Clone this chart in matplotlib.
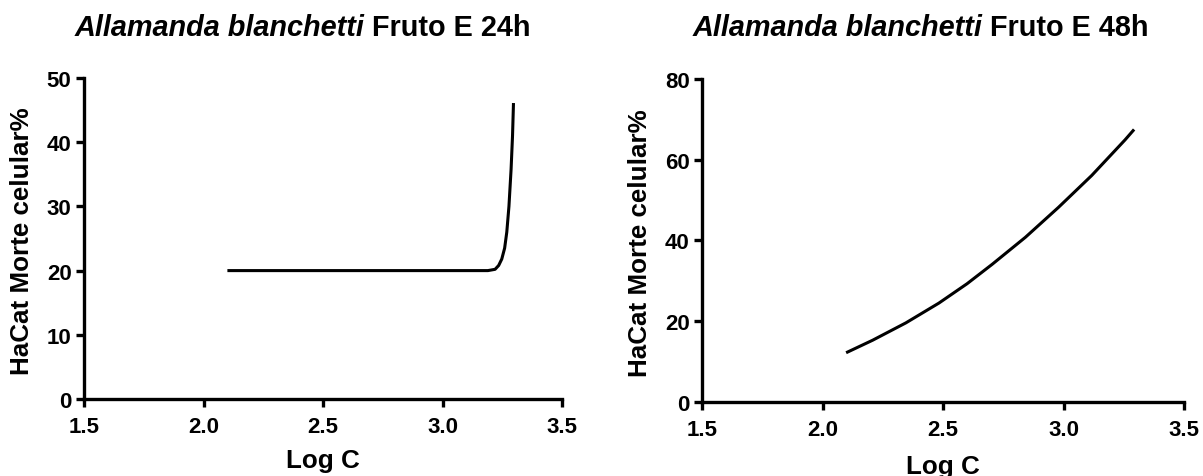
import matplotlib
matplotlib.use("Agg")
import matplotlib.pyplot as plt

plt.rcParams['font.family'] = ['Liberation Sans', 'DejaVu Sans']

# ---- data ----
x24 = [2.10, 2.50, 3.00, 3.19, 3.22, 3.235, 3.248, 3.26, 3.269, 3.278, 3.287, 3.293, 3.297]
y24 = [20.0, 20.0, 20.0, 20.0, 20.2, 20.8, 21.8, 23.5, 26.0, 30.0, 35.8, 41.0, 46.1]

x48 = [2.098, 2.208, 2.346, 2.483, 2.600, 2.704, 2.842, 2.979, 3.117, 3.255, 3.293]
y48 = [12.2, 15.3, 19.6, 24.5, 29.3, 34.1, 40.8, 48.2, 56.1, 64.9, 67.5]

xticks = [1.5, 2.0, 2.5, 3.0, 3.5]
yticks24 = [0, 10, 20, 30, 40, 50]
yticks48 = [0, 20, 40, 60, 80]
species = "Allamanda blanchetti"
suffixes = ["Fruto E 24h", "Fruto E 48h"]
ylabel = "HaCat Morte celular%"
xlabel = "Log C"

W, H = 1203, 477
fig = plt.figure(figsize=(W / 100, H / 100), dpi=100)

def px_ax(x0, x1, ytop, ybot):
    return [x0 / W, 1 - ybot / H, (x1 - x0) / W, (ybot - ytop) / H]

ax1 = fig.add_axes(px_ax(84, 562, 79, 400))
ax2 = fig.add_axes(px_ax(702, 1184, 80, 403))

for ax, xs, ys, yt in [(ax1, x24, y24, yticks24), (ax2, x48, y48, yticks48)]:
    ax.plot(xs, ys, color='black', lw=2.2, solid_capstyle='butt',
            solid_joinstyle='round')
    ax.set_xlim(1.5, 3.5)
    ax.set_ylim(yt[0], yt[-1])
    ax.set_xticks(xticks)
    ax.set_xticklabels([f"{t:.1f}" for t in xticks])
    ax.set_yticks(yt)
    ax.set_yticklabels([str(t) for t in yt])
    for s in ['top', 'right']:
        ax.spines[s].set_visible(False)
    for s in ['left', 'bottom']:
        ax.spines[s].set_linewidth(2.4)
    ax.tick_params(direction='out', length=6, width=2.4, labelsize=16)
    ax.tick_params(axis='x', pad=6)
    ax.tick_params(axis='y', pad=3)
    for lab in ax.get_xticklabels() + ax.get_yticklabels():
        lab.set_fontweight('bold')

fs_title = 20.8
renderer = fig.canvas.get_renderer()
for x_start, suf in [(75, suffixes[0]), (693, suffixes[1])]:
    t1 = fig.text(x_start / W, 1 - 36 / H, species, fontsize=fs_title,
                  fontweight='bold', fontstyle='italic', va='baseline', ha='left')
    bb = t1.get_window_extent(renderer)
    fig.text((bb.x1 + 7) / W, 1 - 36 / H, suf, fontsize=fs_title,
             fontweight='bold', va='baseline', ha='left')

fs_lab = 18.7
fig.text(323 / W, 1 - 468 / H, xlabel, fontsize=fs_lab, fontweight='bold',
         ha='center', va='baseline')
fig.text(943 / W, 1 - 474 / H, xlabel, fontsize=fs_lab, fontweight='bold',
         ha='center', va='baseline')
fig.text(22 / W, 1 - 241 / H, ylabel, fontsize=fs_lab, fontweight='bold',
         ha='center', va='center', rotation=90)
fig.text(640 / W, 1 - 243 / H, ylabel, fontsize=fs_lab, fontweight='bold',
         ha='center', va='center', rotation=90)

fig.savefig("out.png", dpi=100)
